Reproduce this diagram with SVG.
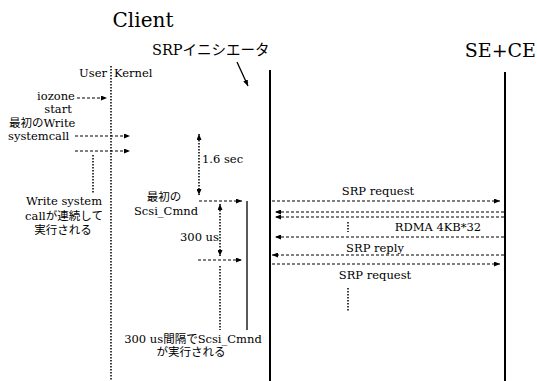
<svg xmlns="http://www.w3.org/2000/svg" width="537" height="381" viewBox="0 0 537 381">
<defs>
<marker id="ah" markerWidth="6" markerHeight="5" refX="6" refY="2.5" orient="auto" markerUnits="userSpaceOnUse">
<path d="M0,0 L6,2.5 L0,5 Z" fill="#000"/>
</marker>
<marker id="ahs" markerWidth="6" markerHeight="5" refX="0" refY="2.5" orient="auto" markerUnits="userSpaceOnUse">
<path d="M6,0 L0,2.5 L6,5 Z" fill="#000"/>
</marker>
<style>
.t{font-size:11.5px;fill:#000}
.big{font-size:20px;fill:#000}
.mid{font-size:14.5px;fill:#000}
.dash{stroke:#000;stroke-width:1.2;fill:none;stroke-dasharray:3,2}
.dot{stroke:#000;stroke-width:1.5;fill:none;stroke-dasharray:1.5,1.5}
.sol{stroke:#000;stroke-width:2;fill:none}
.thin{stroke:#000;stroke-width:1.3;fill:none}
</style>
</defs>
<rect width="537" height="381" fill="#fff"/>
<g font-family="DejaVu Serif, Liberation Serif, Noto Sans CJK JP, serif">
<g id="client">
<text class="big" x="143" y="27" text-anchor="middle">Client</text>
<line class="sol" x1="270" y1="70" x2="270" y2="381"/>
</g>
<g id="srp-initiator-label">
<text class="mid" x="152" y="55">SRPイニシエータ</text>
</g>
<g id="sece">
<text class="big" x="536" y="57" text-anchor="end" style="font-size:19px">SE+CE</text>
<line class="sol" x1="505" y1="72" x2="505" y2="381"/>
</g>
<g id="user-kernel">
<text class="t" x="107" y="77" text-anchor="end">User</text>
<text class="t" x="114" y="77">Kernel</text>
<line class="dot" x1="111" y1="66" x2="111" y2="381"/>
</g>
<g id="iozone">
<text class="t" x="56" y="100" text-anchor="middle">iozone</text>
<text class="t" x="58" y="113" text-anchor="middle">start</text>
</g>
<g id="first-write">
<text class="t" x="9" y="127">最初のWrite</text>
<text class="t" x="8" y="140">systemcall</text>
</g>
<g id="write-cont">
<text class="t" x="64" y="205" text-anchor="middle">Write system</text>
<text class="t" x="64" y="220" text-anchor="middle">callが連続して</text>
<text class="t" x="63" y="234" text-anchor="middle">実行される</text>
</g>
<g id="first-scsi">
<text class="t" x="164" y="201" text-anchor="middle">最初の</text>
<text class="t" x="166" y="215" text-anchor="middle">Scsi_Cmnd</text>
<line class="thin" x1="247" y1="201" x2="247" y2="330"/>
</g>
<g id="labels">
<text class="t" x="202" y="163">1.6 sec</text>
<text class="t" x="180" y="241">300 us</text>
<text class="t" x="193" y="343" text-anchor="middle">300 us間隔でScsi_Cmnd</text>
<text class="t" x="191" y="356" text-anchor="middle">が実行される</text>
<text class="t" x="378" y="195" text-anchor="middle">SRP request</text>
<text class="t" x="438" y="231" text-anchor="middle">RDMA 4KB*32</text>
<text class="t" x="375" y="252" text-anchor="middle">SRP reply</text>
<text class="t" x="375" y="279" text-anchor="middle">SRP request</text>
</g>
</g>
<g id="connectors">
<line class="thin" x1="237" y1="62" x2="248" y2="86" marker-end="url(#ah)"/>
<line class="dash" x1="77" y1="98" x2="107" y2="98" marker-end="url(#ah)"/>
<line class="dash" x1="75" y1="136" x2="130" y2="136" marker-end="url(#ah)"/>
<line class="dash" x1="75" y1="151" x2="130" y2="151" marker-end="url(#ah)"/>
<line class="dot" x1="93" y1="155" x2="93" y2="193"/>
<line class="dot" x1="199" y1="134" x2="199" y2="195" marker-start="url(#ahs)" marker-end="url(#ah)"/>
<line class="dash" x1="199" y1="201" x2="242" y2="201" marker-end="url(#ah)"/>
<line class="dot" x1="220" y1="204" x2="220" y2="256" marker-start="url(#ahs)" marker-end="url(#ah)"/>
<line class="dash" x1="198" y1="260" x2="242" y2="260" marker-end="url(#ah)"/>
<line class="dot" x1="220" y1="266" x2="220" y2="330"/>
<line class="dash" x1="272" y1="201" x2="500" y2="201" marker-end="url(#ah)"/>
<line class="dash" x1="504" y1="212" x2="275" y2="212" marker-end="url(#ah)"/>
<line class="dash" x1="504" y1="217" x2="275" y2="217" marker-end="url(#ah)"/>
<line class="dot" x1="348" y1="222" x2="348" y2="232"/>
<line class="dash" x1="504" y1="237" x2="275" y2="237" marker-end="url(#ah)"/>
<line class="dash" x1="504" y1="255" x2="272" y2="255" marker-end="url(#ah)"/>
<line class="dash" x1="272" y1="264" x2="500" y2="264" marker-end="url(#ah)"/>
<line class="dot" x1="348" y1="288" x2="348" y2="312"/>
</g>
</svg>
